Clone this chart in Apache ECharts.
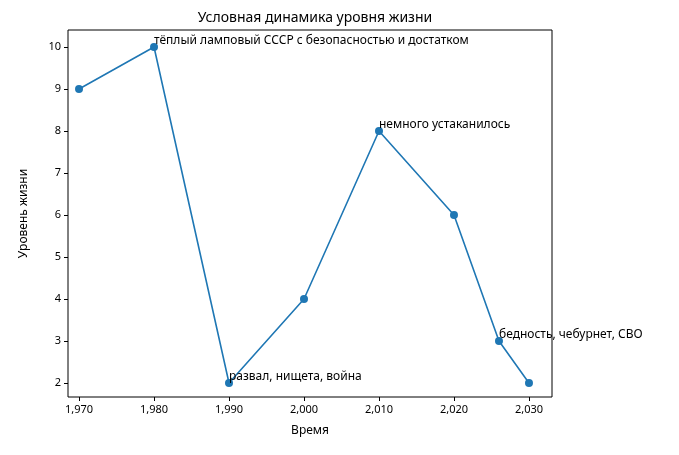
<!DOCTYPE html>
<html><head><meta charset="utf-8">
<script src="https://cdn.jsdelivr.net/npm/echarts@6/dist/echarts.min.js"></script>
<style>html,body{margin:0;padding:0;background:#fff}#c{width:679px;height:455px}</style>
</head><body><div id="c"></div>
<script>
const years = [1970, 1980, 1990, 2000, 2010, 2020, 2026, 2030];
const levels = [9, 10, 2, 4, 8, 6, 3, 2];
const notes = ['', 'тёплый ламповый СССР с безопасностью и достатком', 'развал, нищета, война', '', 'немного устаканилось', '', 'бедность, чебурнет, СВО', ''];
const xTicks = [1970, 1980, 1990, 2000, 2010, 2020, 2030];
const F = 'Noto Sans';
const c = echarts.init(document.getElementById('c'));
c.setOption({
  animation: false,
  textStyle: {fontFamily: F},
  title: {text: 'Условная динамика уровня жизни', left: 310, top: 6, textAlign: 'center',
    textStyle: {fontFamily: F, fontSize: 14, fontWeight: 'normal', color: '#000'}},
  grid: {left: 68, right: 127, top: 30, bottom: 58, show: true, borderColor: '#000', borderWidth: 1, containLabel: false},
  xAxis: {type: 'value', min: 1968.53, max: 2033.07, name: 'Время', nameLocation: 'middle', nameGap: 28,
    nameTextStyle: {fontFamily: F, fontSize: 12, color: '#000'},
    splitLine: {show: false}, axisLine: {show: false},
    axisTick: {show: true, inside: false, length: 4, lineStyle: {color: '#000'}, customValues: xTicks},
    axisLabel: {color: '#000', fontSize: 11, fontFamily: F, customValues: xTicks, margin: 7}},
  yAxis: {type: 'value', min: 1.667, max: 10.405, name: 'Уровень жизни', nameLocation: 'middle', nameGap: 38,
    nameTextStyle: {fontFamily: F, fontSize: 12, color: '#000'},
    splitLine: {show: false}, axisLine: {show: false},
    axisTick: {show: true, length: 4, lineStyle: {color: '#000'}, customValues: [2,3,4,5,6,7,8,9,10]},
    axisLabel: {color: '#000', fontSize: 11, fontFamily: F, customValues: [2,3,4,5,6,7,8,9,10], margin: 7}},
  series: [{
    type: 'line', data: years.map((y, i) => [y, levels[i]]),
    symbol: 'circle', symbolSize: 8, showAllSymbol: true,
    lineStyle: {color: '#1f77b4', width: 1.6}, itemStyle: {color: '#1f77b4'},
    label: {show: true, position: 'inside', offset: [0, 0], color: '#000', fontSize: 12, fontFamily: F,
      align: 'left', verticalAlign: 'bottom',
      formatter: p => notes[p.dataIndex]}
  }]
});
</script></body></html>
